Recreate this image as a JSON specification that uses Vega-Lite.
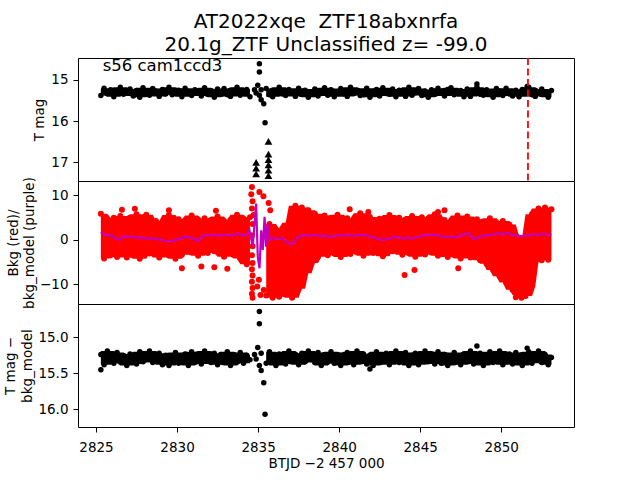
{
"$schema": "https://vega.github.io/schema/vega-lite/v6.json",
"padding": {"left": 2, "top": 11, "right": 5, "bottom": 5},
"config": {
 "font": "DejaVu Sans",
 "view": {"stroke": "black", "strokeWidth": 1},
 "axis": {"grid": false, "domain": false, "tickColor": "black", "tickSize": 5, "labelColor": "black", "labelFontSize": 13.5, "labelFont": "DejaVu Sans", "titleFont": "DejaVu Sans", "titleFontSize": 13.5, "titleFontWeight": "normal", "titleColor": "black", "labelPadding": 5},
 "axisX": {"labelPadding": 8}
},
"datasets": {
 "obs": [
{"t":2825.3,"m":15.38,"d":15.24,"b":5.8,"s":1},
{"t":2825.5,"m":15.20,"d":15.38,"b":-4.2,"s":1},
{"t":2825.7,"m":15.33,"d":15.19,"b":2.1,"s":1},
{"t":2825.9,"m":15.24,"d":15.31,"b":-2.5,"s":1},
{"t":2826.1,"m":15.41,"d":15.36,"b":4.9,"s":1},
{"t":2826.3,"m":15.28,"d":15.21,"b":-3.9,"s":1},
{"t":2826.5,"m":15.18,"d":15.33,"b":5.3,"s":1},
{"t":2826.7,"m":15.35,"d":15.26,"b":0.3,"s":1},
{"t":2826.9,"m":15.31,"d":15.39,"b":-4.0,"s":1},
{"t":2827.1,"m":15.22,"d":15.23,"b":3.2,"s":1},
{"t":2827.3,"m":15.39,"d":15.30,"b":-1.0,"s":1},
{"t":2827.5,"m":15.26,"d":15.37,"b":5.7,"s":1},
{"t":2827.7,"m":15.42,"d":15.20,"b":-4.3,"s":1},
{"t":2827.9,"m":15.19,"d":15.34,"b":1.5,"s":1},
{"t":2828.1,"m":15.32,"d":15.27,"b":5.6,"s":1},
{"t":2828.3,"m":15.37,"d":15.19,"b":-3.1,"s":1},
{"t":2828.5,"m":15.21,"d":15.35,"b":-0.4,"s":1},
{"t":2828.7,"m":15.27,"d":15.32,"b":4.2,"s":1},
{"t":2828.9,"m":15.40,"d":15.22,"b":-4.0,"s":1},
{"t":2829.1,"m":15.23,"d":15.38,"b":2.8,"s":1},
{"t":2829.3,"m":15.34,"d":15.25,"b":-2.2,"s":1},
{"t":2829.5,"m":15.18,"d":15.39,"b":5.5,"s":1},
{"t":2829.7,"m":15.36,"d":15.28,"b":0.9,"s":1},
{"t":2829.9,"m":15.30,"d":15.21,"b":-4.3,"s":1},
{"t":2830.1,"m":15.25,"d":15.36,"b":4.6,"s":1},
{"t":2830.3,"m":15.41,"d":15.31,"b":-3.4,"s":1},
{"t":2830.5,"m":15.20,"d":15.23,"b":3.7,"s":1},
{"t":2830.7,"m":15.33,"d":15.39,"b":-1.8,"s":1},
{"t":2830.9,"m":15.38,"d":15.20,"b":5.4,"s":1},
{"t":2831.1,"m":15.24,"d":15.33,"b":0.1,"s":1},
{"t":2831.3,"m":15.29,"d":15.26,"b":-3.6,"s":1},
{"t":2831.5,"m":15.39,"d":15.37,"b":1.1,"s":1},
{"t":2831.7,"m":15.19,"d":15.19,"b":4.8,"s":1},
{"t":2831.9,"m":15.35,"d":15.30,"b":-3.0,"s":1},
{"t":2832.1,"m":15.27,"d":15.35,"b":2.9,"s":1},
{"t":2832.3,"m":15.42,"d":15.22,"b":-2.6,"s":1},
{"t":2832.5,"m":15.22,"d":15.38,"b":5.2,"s":1},
{"t":2832.7,"m":15.32,"d":15.24,"b":1.9,"s":1},
{"t":2832.9,"m":15.21,"d":15.32,"b":-3.8,"s":1},
{"t":2833.1,"m":15.36,"d":15.20,"b":1.8,"s":1},
{"t":2833.3,"m":15.40,"d":15.39,"b":4.4,"s":1},
{"t":2833.5,"m":15.26,"d":15.27,"b":-2.0,"s":1},
{"t":2833.7,"m":15.18,"d":15.34,"b":5.6,"s":1},
{"t":2833.9,"m":15.37,"d":15.21,"b":-4.2,"s":1},
{"t":2834.1,"m":15.31,"d":15.36,"b":3.0,"s":1},
{"t":2834.3,"m":15.23,"d":15.25,"b":-5.5,"s":1},
{"t":2834.5,"m":15.41,"d":15.31,"b":5.0,"s":1},
{"t":2835.5,"m":15.21,"d":15.36,"b":-12.5,"s":2},
{"t":2835.7,"m":15.36,"d":15.20,"b":3.5,"s":2},
{"t":2835.9,"m":15.41,"d":15.31,"b":-13.0,"s":2},
{"t":2836.1,"m":15.27,"d":15.39,"b":1.0,"s":2},
{"t":2836.3,"m":15.18,"d":15.23,"b":-12.8,"s":2},
{"t":2836.5,"m":15.34,"d":15.28,"b":2.5,"s":2},
{"t":2836.7,"m":15.38,"d":15.37,"b":-12.2,"s":2},
{"t":2836.9,"m":15.23,"d":15.19,"b":3.8,"s":2},
{"t":2837.1,"m":15.32,"d":15.33,"b":-13.0,"s":2},
{"t":2837.3,"m":15.40,"d":15.26,"b":7.6,"s":2},
{"t":2837.5,"m":15.20,"d":15.38,"b":-11.0,"s":2},
{"t":2837.7,"m":15.35,"d":15.22,"b":7.2,"s":2},
{"t":2837.9,"m":15.25,"d":15.34,"b":-7.5,"s":2},
{"t":2838.1,"m":15.42,"d":15.19,"b":6.6,"s":2},
{"t":2838.3,"m":15.29,"d":15.30,"b":-5.2,"s":2},
{"t":2838.5,"m":15.22,"d":15.35,"b":5.8,"s":2},
{"t":2838.7,"m":15.39,"d":15.21,"b":-3.8,"s":2},
{"t":2838.9,"m":15.33,"d":15.39,"b":1.2,"s":2},
{"t":2839.1,"m":15.19,"d":15.25,"b":5.4,"s":2},
{"t":2839.3,"m":15.37,"d":15.32,"b":-3.5,"s":2},
{"t":2839.5,"m":15.24,"d":15.20,"b":2.9,"s":2},
{"t":2839.7,"m":15.41,"d":15.36,"b":-1.7,"s":2},
{"t":2839.9,"m":15.30,"d":15.27,"b":5.6,"s":2},
{"t":2840.1,"m":15.21,"d":15.39,"b":-3.9,"s":2},
{"t":2840.3,"m":15.34,"d":15.24,"b":0.6,"s":2},
{"t":2840.5,"m":15.40,"d":15.21,"b":4.8,"s":2},
{"t":2840.7,"m":15.18,"d":15.33,"b":-3.2,"s":2},
{"t":2840.9,"m":15.32,"d":15.38,"b":3.4,"s":2},
{"t":2841.1,"m":15.26,"d":15.19,"b":-2.4,"s":2},
{"t":2841.3,"m":15.38,"d":15.30,"b":5.9,"s":2},
{"t":2841.5,"m":15.36,"d":15.23,"b":-3.6,"s":2},
{"t":2841.7,"m":15.20,"d":15.37,"b":1.8,"s":2},
{"t":2841.9,"m":15.42,"d":15.26,"b":5.1,"s":2},
{"t":2842.1,"m":15.28,"d":15.39,"b":-3.0,"s":2},
{"t":2842.3,"m":15.23,"d":15.20,"b":-0.5,"s":2},
{"t":2842.5,"m":15.39,"d":15.34,"b":4.7,"s":2},
{"t":2842.7,"m":15.19,"d":15.31,"b":-3.7,"s":2},
{"t":2842.9,"m":15.33,"d":15.22,"b":2.3,"s":2},
{"t":2843.1,"m":15.35,"d":15.38,"b":5.5,"s":2},
{"t":2843.3,"m":15.22,"d":15.28,"b":-2.6,"s":2},
{"t":2843.5,"m":15.41,"d":15.19,"b":0.4,"s":2},
{"t":2843.7,"m":15.25,"d":15.35,"b":4.9,"s":2},
{"t":2843.9,"m":15.29,"d":15.32,"b":-3.4,"s":2},
{"t":2844.1,"m":15.40,"d":15.21,"b":3.1,"s":2},
{"t":2844.3,"m":15.18,"d":15.39,"b":-1.2,"s":2},
{"t":2844.5,"m":15.37,"d":15.25,"b":5.3,"s":2},
{"t":2844.7,"m":15.31,"d":15.22,"b":-3.8,"s":2},
{"t":2844.9,"m":15.21,"d":15.38,"b":1.5,"s":2},
{"t":2845.1,"m":15.38,"d":15.30,"b":5.0,"s":2},
{"t":2845.3,"m":15.27,"d":15.19,"b":-3.3,"s":2},
{"t":2845.5,"m":15.42,"d":15.34,"b":2.6,"s":2},
{"t":2845.7,"m":15.24,"d":15.27,"b":-2.1,"s":2},
{"t":2845.9,"m":15.34,"d":15.37,"b":5.7,"s":2},
{"t":2846.1,"m":15.20,"d":15.20,"b":-3.6,"s":2},
{"t":2846.3,"m":15.32,"d":15.36,"b":0.8,"s":2},
{"t":2846.5,"m":15.39,"d":15.24,"b":4.4,"s":2},
{"t":2846.7,"m":15.23,"d":15.39,"b":-3.9,"s":2},
{"t":2846.9,"m":15.19,"d":15.31,"b":3.6,"s":2},
{"t":2847.1,"m":15.36,"d":15.21,"b":-1.9,"s":2},
{"t":2847.3,"m":15.33,"d":15.26,"b":5.4,"s":2},
{"t":2847.5,"m":15.26,"d":15.38,"b":-4.2,"s":2},
{"t":2847.7,"m":15.41,"d":15.23,"b":2.0,"s":2},
{"t":2847.9,"m":15.22,"d":15.33,"b":5.2,"s":2},
{"t":2848.1,"m":15.40,"d":15.19,"b":-4.0,"s":2},
{"t":2848.3,"m":15.28,"d":15.37,"b":0.2,"s":2},
{"t":2848.5,"m":15.18,"d":15.30,"b":4.6,"s":2},
{"t":2848.7,"m":15.35,"d":15.22,"b":-4.6,"s":2},
{"t":2848.9,"m":15.37,"d":15.39,"b":3.3,"s":2},
{"t":2849.1,"m":15.24,"d":15.25,"b":-5.4,"s":2},
{"t":2849.3,"m":15.31,"d":15.20,"b":4.8,"s":2},
{"t":2849.5,"m":15.42,"d":15.35,"b":-6.8,"s":2},
{"t":2849.7,"m":15.21,"d":15.32,"b":1.6,"s":2},
{"t":2849.9,"m":15.27,"d":15.19,"b":-8.2,"s":2},
{"t":2850.1,"m":15.38,"d":15.38,"b":4.2,"s":2},
{"t":2850.3,"m":15.20,"d":15.27,"b":-9.6,"s":2},
{"t":2850.5,"m":15.34,"d":15.23,"b":3.4,"s":2},
{"t":2850.7,"m":15.39,"d":15.37,"b":-11.2,"s":2},
{"t":2850.9,"m":15.25,"d":15.21,"b":0.8,"s":2},
{"t":2851.1,"m":15.41,"d":15.34,"b":-12.4,"s":2},
{"t":2851.3,"m":15.23,"d":15.39,"b":-0.6,"s":2},
{"t":2851.5,"m":15.32,"d":15.26,"b":-12.6,"s":2},
{"t":2851.7,"m":15.18,"d":15.20,"b":-10.5,"s":2},
{"t":2851.9,"m":15.36,"d":15.36,"b":5.7,"s":2},
{"t":2852.1,"m":15.40,"d":15.31,"b":-5.0,"s":2},
{"t":2852.3,"m":15.29,"d":15.19,"b":7.0,"s":2},
{"t":2852.5,"m":15.22,"d":15.35,"b":-4.6,"s":2},
{"t":2852.7,"m":15.33,"d":15.24,"b":7.2,"s":2},
{"t":2852.9,"m":15.42,"d":15.38,"b":-4.5,"s":2},
{"t":2853.1,"m":15.26,"d":15.28,"b":6.8,"s":2}
 ],
 "extra": [
{"t":2835.08,"m":14.61,"d":14.64},
{"t":2835.08,"m":14.81,"d":14.81},
{"t":2834.98,"m":15.13,"d":15.14},
{"t":2834.78,"m":15.24,"d":15.24},
{"t":2835.19,"m":15.24,"d":15.22},
{"t":2834.88,"m":15.32,"d":15.30},
{"t":2835.08,"m":15.37,"d":15.39},
{"t":2835.19,"m":15.48,"d":15.46},
{"t":2835.35,"m":15.58,"d":15.63},
{"t":2835.43,"m":16.04,"d":16.07},
{"t":2825.3,"d":15.45},
{"t":2841.9,"d":15.44},
{"t":2848.5,"m":15.10,"d":15.12},
{"t":2851.6,"m":15.16,"d":15.15},
{"t":2826.6,"b":6.7},{"t":2827.4,"b":6.9},{"t":2829.5,"b":6.6},{"t":2832.4,"b":6.5},
{"t":2830.3,"b":-6.4},{"t":2831.5,"b":-6.0},{"t":2832.3,"b":-6.2},{"t":2833.1,"b":-6.5},
{"t":2834.62,"b":11.8},{"t":2834.58,"b":10.2},{"t":2834.66,"b":8.6},{"t":2834.62,"b":7.0},{"t":2834.66,"b":3.5},{"t":2834.62,"b":1.0},{"t":2834.66,"b":-1.5},{"t":2834.62,"b":-3.5},{"t":2834.66,"b":-5.2},{"t":2834.62,"b":-6.6},{"t":2834.66,"b":-8.0},{"t":2834.62,"b":-9.4},{"t":2834.66,"b":-10.8},{"t":2834.62,"b":-12.1},{"t":2834.66,"b":-13.0},{"t":2834.72,"b":5.5},
{"t":2835.08,"b":10.7},{"t":2835.33,"b":9.7},{"t":2835.65,"b":8.2},{"t":2835.75,"b":6.6},{"t":2835.05,"b":-9.0},{"t":2834.95,"b":-10.5},{"t":2835.15,"b":-12.4},{"t":2835.35,"b":-11.3},
{"t":2837.45,"b":-7.9},{"t":2840.65,"b":6.8},{"t":2841.8,"b":6.2},{"t":2844.04,"b":-7.9},{"t":2844.65,"b":-6.8},{"t":2846.1,"b":6.2},{"t":2846.5,"b":6.6},{"t":2847.35,"b":-6.4},
{"t":2850.9,"b":-12.9},{"t":2851.25,"b":-13.0}
 ],
 "lim": [
{"t":2834.88,"m":17.0},{"t":2834.88,"m":17.14},{"t":2834.88,"m":17.28},
{"t":2835.64,"m":16.49},{"t":2835.64,"m":16.8},{"t":2835.64,"m":16.93},{"t":2835.64,"m":17.06},{"t":2835.64,"m":17.19},{"t":2835.64,"m":17.32}
 ],
 "model": [
{"t":2825.3,"k":1.7},{"t":2825.5,"k":1.2},{"t":2825.7,"k":0.9},{"t":2825.9,"k":1.1},{"t":2826.1,"k":0.6},{"t":2826.3,"k":0.1},{"t":2826.5,"k":0.0},{"t":2826.7,"k":0.8},{"t":2826.9,"k":0.6},{"t":2827.2,"k":0.7},{"t":2827.5,"k":0.4},{"t":2827.8,"k":0.5},{"t":2828.1,"k":0.2},{"t":2828.4,"k":0.4},{"t":2828.7,"k":0.1},{"t":2829.0,"k":0.0},{"t":2829.3,"k":-0.3},{"t":2829.6,"k":-0.4},{"t":2829.9,"k":-0.1},{"t":2830.2,"k":0.3},{"t":2830.5,"k":0.6},{"t":2830.8,"k":0.5},{"t":2831.1,"k":0.1},{"t":2831.3,"k":-0.3},{"t":2831.6,"k":0.9},{"t":2831.9,"k":1.0},{"t":2832.2,"k":1.1},{"t":2832.5,"k":0.9},{"t":2832.8,"k":1.0},{"t":2833.1,"k":1.1},{"t":2833.4,"k":0.9},{"t":2833.7,"k":1.4},{"t":2834.0,"k":1.0},{"t":2834.3,"k":1.1},
{"t":2834.47,"k":2.1},{"t":2834.67,"k":-1.6},{"t":2834.88,"k":8.1},{"t":2834.98,"k":-3.8},{"t":2835.09,"k":-6.4},{"t":2835.19,"k":2.1},{"t":2835.29,"k":-2.3},{"t":2835.4,"k":5.1},{"t":2835.49,"k":-1.6},{"t":2835.6,"k":3.6},{"t":2835.7,"k":-0.1},
{"t":2835.9,"k":0.4},{"t":2836.2,"k":0.2},{"t":2836.5,"k":0.4},{"t":2836.8,"k":-0.6},{"t":2837.0,"k":-1.0},{"t":2837.2,"k":-0.8},{"t":2837.35,"k":0.3},{"t":2837.6,"k":0.8},{"t":2837.9,"k":1.0},{"t":2838.2,"k":0.9},{"t":2838.5,"k":1.1},{"t":2838.8,"k":0.8},{"t":2839.1,"k":0.9},{"t":2839.4,"k":0.6},{"t":2839.7,"k":0.8},{"t":2840.0,"k":1.0},{"t":2840.3,"k":0.9},{"t":2840.6,"k":1.1},{"t":2840.9,"k":0.8},{"t":2841.2,"k":1.0},{"t":2841.5,"k":1.1},{"t":2841.8,"k":0.8},{"t":2842.1,"k":0.6},{"t":2842.4,"k":0.2},{"t":2842.7,"k":-0.1},{"t":2843.0,"k":0.2},{"t":2843.3,"k":0.5},{"t":2843.6,"k":0.6},{"t":2843.9,"k":0.3},{"t":2844.2,"k":0.4},{"t":2844.5,"k":0.3},{"t":2844.8,"k":0.6},{"t":2845.1,"k":0.9},{"t":2845.4,"k":1.0},{"t":2845.7,"k":1.1},{"t":2846.0,"k":1.0},{"t":2846.3,"k":0.8},{"t":2846.6,"k":0.6},{"t":2846.9,"k":0.7},{"t":2847.2,"k":0.5},{"t":2847.5,"k":0.9},{"t":2847.8,"k":1.3},{"t":2848.0,"k":1.4},{"t":2848.3,"k":0.0},{"t":2848.6,"k":0.6},{"t":2848.9,"k":0.9},{"t":2849.2,"k":1.0},{"t":2849.5,"k":1.2},{"t":2849.8,"k":1.4},{"t":2850.1,"k":1.3},{"t":2850.4,"k":1.5},{"t":2850.7,"k":1.1},{"t":2851.0,"k":0.9},{"t":2851.3,"k":0.8},{"t":2851.6,"k":0.9},{"t":2851.9,"k":1.2},{"t":2852.2,"k":1.1},{"t":2852.5,"k":1.3},{"t":2852.8,"k":1.2},{"t":2853.1,"k":1.1}
 ],
 "disc": [{"t":2851.65}],
 "ann": [{"t":2825.41,"m":14.78,"label":"s56 cam1ccd3"}]
},
"spacing": 0,
"bounds": "flush",
"resolve": {"scale": {"x": "independent", "y": "independent"}},
"vconcat": [
 {
  "width": 496, "height": 123,
  "title": {"text": ["AT2022xqe\u00a0 ZTF18abxnrfa", "20.1g_ZTF Unclassified z= -99.0"], "font": "DejaVu Sans", "fontSize": 20, "fontWeight": "normal", "color": "black", "anchor": "middle", "frame": "group", "offset": 2, "lineHeight": 23},
  "layer": [
   {"data": {"name": "obs"},
    "transform": [{"window": [{"op": "min", "field": "m", "as": "lo"}, {"op": "max", "field": "m", "as": "hi"}], "frame": [-2, 2], "groupby": ["s"], "sort": [{"field": "t", "order": "ascending"}]}],
    "mark": {"type": "area", "color": "black", "opacity": 1, "clip": true},
    "encoding": {
     "x": {"field": "t", "type": "quantitative", "scale": {"domain": [2823.89, 2854.49], "nice": false, "zero": false}, "axis": null},
     "y": {"field": "lo", "type": "quantitative", "title": "T mag", "scale": {"domain": [14.47, 17.45], "reverse": true, "nice": false, "zero": false}, "axis": {"values": [15, 16, 17], "format": "d", "titleX": -39, "titleBaseline": "middle"}},
     "y2": {"field": "hi"},
     "detail": {"field": "s", "type": "nominal"}
    }},
   {"data": {"name": "obs"},
    "mark": {"type": "circle", "color": "black", "size": 30, "opacity": 1, "clip": true},
    "encoding": {
     "x": {"field": "t", "type": "quantitative"},
     "y": {"field": "m", "type": "quantitative", "title": "T mag"}
    }},
   {"data": {"name": "extra"},
    "transform": [{"filter": "isValid(datum.m)"}],
    "mark": {"type": "circle", "color": "black", "size": 30, "opacity": 1, "clip": true},
    "encoding": {
     "x": {"field": "t", "type": "quantitative"},
     "y": {"field": "m", "type": "quantitative", "title": "T mag"}
    }},
   {"data": {"name": "lim"},
    "mark": {"type": "point", "shape": "triangle-up", "filled": true, "color": "black", "size": 60, "opacity": 1, "clip": true},
    "encoding": {
     "x": {"field": "t", "type": "quantitative"},
     "y": {"field": "m", "type": "quantitative", "title": "T mag"}
    }},
   {"data": {"name": "disc"},
    "mark": {"type": "rule", "color": "#ff0000", "strokeWidth": 1.8, "strokeDash": [7, 3.5]},
    "encoding": {
     "x": {"field": "t", "type": "quantitative"}
    }},
   {"data": {"name": "ann"},
    "mark": {"type": "text", "align": "left", "baseline": "alphabetic", "fontSize": 16.5, "color": "black", "font": "DejaVu Sans"},
    "encoding": {
     "x": {"field": "t", "type": "quantitative"},
     "y": {"field": "m", "type": "quantitative", "title": "T mag"},
     "text": {"field": "label"}
    }}
  ]
 },
 {
  "width": 496, "height": 123,
  "layer": [
   {"data": {"name": "obs"},
    "transform": [{"window": [{"op": "min", "field": "b", "as": "lo"}, {"op": "max", "field": "b", "as": "hi"}], "frame": [-2, 2], "groupby": ["s"], "sort": [{"field": "t", "order": "ascending"}]}],
    "mark": {"type": "area", "color": "#ff0000", "opacity": 1, "clip": true},
    "encoding": {
     "x": {"field": "t", "type": "quantitative", "scale": {"domain": [2823.89, 2854.49], "nice": false, "zero": false}, "axis": null},
     "y": {"field": "lo", "type": "quantitative", "title": ["Bkg (red)/", "bkg_model (purple)"], "scale": {"domain": [-14.41, 13.14], "nice": false, "zero": false}, "axis": {"values": [-10, 0, 10], "format": "d", "titleX": -65, "titleBaseline": "middle", "titleLineHeight": 16}},
     "y2": {"field": "hi"},
     "detail": {"field": "s", "type": "nominal"}
    }},
   {"data": {"name": "obs"},
    "mark": {"type": "circle", "color": "#ff0000", "size": 36, "opacity": 1, "clip": true},
    "encoding": {
     "x": {"field": "t", "type": "quantitative"},
     "y": {"field": "b", "type": "quantitative", "title": ["Bkg (red)/", "bkg_model (purple)"]}
    }},
   {"data": {"name": "extra"},
    "transform": [{"filter": "isValid(datum.b)"}],
    "mark": {"type": "circle", "color": "#ff0000", "size": 36, "opacity": 1, "clip": true},
    "encoding": {
     "x": {"field": "t", "type": "quantitative"},
     "y": {"field": "b", "type": "quantitative", "title": ["Bkg (red)/", "bkg_model (purple)"]}
    }},
   {"data": {"name": "model"},
    "mark": {"type": "line", "color": "#bf00bf", "strokeWidth": 2.2, "clip": true},
    "encoding": {
     "x": {"field": "t", "type": "quantitative"},
     "y": {"field": "k", "type": "quantitative", "title": ["Bkg (red)/", "bkg_model (purple)"]}
    }}
  ]
 },
 {
  "width": 496, "height": 123,
  "layer": [
   {"data": {"name": "obs"},
    "transform": [{"window": [{"op": "min", "field": "d", "as": "lo"}, {"op": "max", "field": "d", "as": "hi"}], "frame": [-2, 2], "groupby": ["s"], "sort": [{"field": "t", "order": "ascending"}]}],
    "mark": {"type": "area", "color": "black", "opacity": 1, "clip": true},
    "encoding": {
     "x": {"field": "t", "type": "quantitative", "title": "BTJD −2 457 000", "scale": {"domain": [2823.89, 2854.49], "nice": false, "zero": false}, "axis": {"values": [2825, 2830, 2835, 2840, 2845, 2850], "format": "d", "titlePadding": 3}},
     "y": {"field": "lo", "type": "quantitative", "title": ["T mag −", "bkg_model"], "scale": {"domain": [14.537, 16.246], "reverse": true, "nice": false, "zero": false}, "axis": {"values": [15, 15.5, 16], "format": ".1f", "titleX": -68, "titleBaseline": "middle", "titleLineHeight": 17}},
     "y2": {"field": "hi"},
     "detail": {"field": "s", "type": "nominal"}
    }},
   {"data": {"name": "obs"},
    "mark": {"type": "circle", "color": "black", "size": 30, "opacity": 1, "clip": true},
    "encoding": {
     "x": {"field": "t", "type": "quantitative", "title": "BTJD −2 457 000"},
     "y": {"field": "d", "type": "quantitative", "title": ["T mag −", "bkg_model"]}
    }},
   {"data": {"name": "extra"},
    "transform": [{"filter": "isValid(datum.d)"}],
    "mark": {"type": "circle", "color": "black", "size": 30, "opacity": 1, "clip": true},
    "encoding": {
     "x": {"field": "t", "type": "quantitative", "title": "BTJD −2 457 000"},
     "y": {"field": "d", "type": "quantitative", "title": ["T mag −", "bkg_model"]}
    }}
  ]
 }
]
}
